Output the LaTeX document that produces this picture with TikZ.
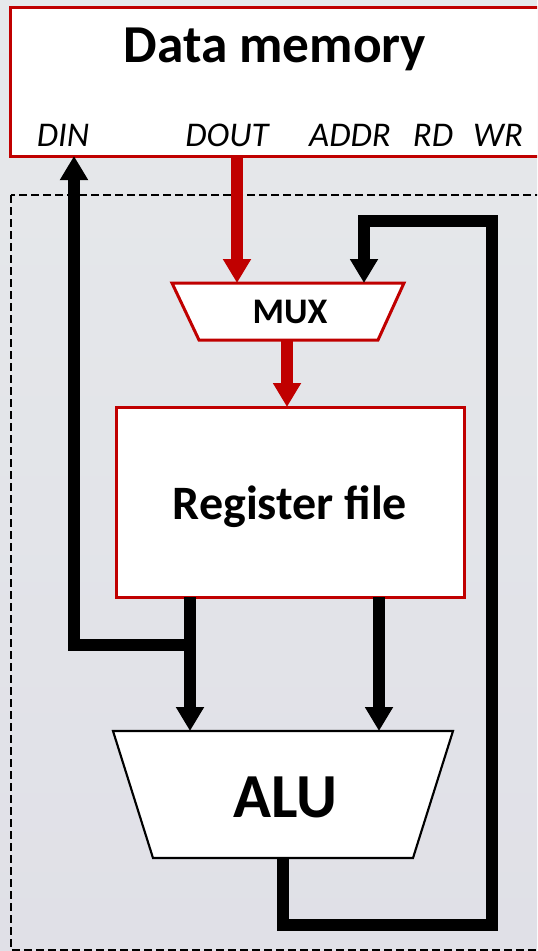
\documentclass[tikz,border=0pt]{standalone}
\usepackage{fontspec}
\setmainfont{Carlito}
\usetikzlibrary{arrows.meta}
\definecolor{wirered}{RGB}{192,0,0}
\definecolor{bgtop}{RGB}{230,233,235}
\definecolor{bgbot}{RGB}{224,224,231}
\tikzset{
  unitbox/.style={draw=wirered, line width=2.25pt, fill=white},
  alubox/.style={draw=black, line width=1.6pt, fill=white, line join=miter},
  wire/.style={draw=black, line width=9pt, line join=miter},
  redwire/.style={draw=wirered, line width=9.5pt, line join=miter},
  tip/.style={-{Triangle[width=20pt,length=18pt]}},
  label/.style={font=\fontsize{26}{28}\selectfont\itshape, anchor=base},
  boundary/.style={draw=black, line width=1.5pt, dash pattern=on 6pt off 3pt}
}
\begin{document}
\begin{tikzpicture}[x=0.75pt, y=-0.75pt]
  \useasboundingbox (0,0) rectangle (537,951);
  \clip (0,0) rectangle (537,951);
  \shade[top color=bgtop, bottom color=bgbot] (0,0) rectangle (537,951);

  % dashed outline of the processor
  \draw[boundary] (11,195) rectangle (620,950);

  % data memory
  \draw[unitbox] (10,7) rectangle (620,156);
  \node[anchor=base, font=\fontsize{40}{44}\selectfont\bfseries] (memtitle) at (275,62) {Data memory};
  \node[label] (din)  at (63,146)  {DIN};
  \node[label] (dout) at (227,146) {DOUT};
  \node[label] (addr) at (350,146) {ADDR};
  \node[label] (rd)   at (433,146) {RD};
  \node[label] (wr)   at (498,146) {WR};
  \coordinate (memdin)  at (74,156);
  \coordinate (memdout) at (237,156);

  % multiplexer
  \draw[unitbox] (172,283) -- (404,283) -- (378,340) -- (199,340) -- cycle;
  \node[anchor=base, font=\fontsize{27}{28}\selectfont\bfseries] (mux) at (290,323) {MUX};
  \coordinate (muxinl) at (237,283);
  \coordinate (muxinr) at (364,283);
  \coordinate (muxout) at (287,340);

  % register file
  \draw[unitbox] (116,407) rectangle (464,597);
  \node[anchor=base, font=\fontsize{36}{40}\selectfont\bfseries] (reg) at (290,519) {Register file};
  \coordinate (regin)   at (287,407);
  \coordinate (regoutl) at (190,597);
  \coordinate (regoutr) at (379,597);

  % ALU
  \draw[alubox] (113,731) -- (453,731) -- (413,858) -- (153,858) -- cycle;
  \node[anchor=base, font=\fontsize{47}{50}\selectfont\bfseries] (alu) at (285,817) {ALU};
  \coordinate (aluinl) at (190,731);
  \coordinate (aluinr) at (379,731);
  \coordinate (aluout) at (283,858);

  % routing points
  \coordinate (split) at (190,645);
  \coordinate (loopbot) at (283,925);
  \coordinate (loopcorner) at (492,925);
  \coordinate (looptop) at (492,221);
  \coordinate (loopturn) at (364,221);

  % data paths
  \draw[redwire, tip] (memdout) -- (muxinl);
  \draw[redwire, tip] (muxout) -- (regin);
  \draw[wire, tip] (regoutl) -- (aluinl);
  \draw[wire, tip] (regoutr) -- (aluinr);
  \draw[wire, tip] (split) -- (split -| memdin) -- (memdin);
  \draw[wire, tip] (aluout) -- (loopbot) -- (loopcorner) -- (looptop) -- (loopturn) -- (muxinr);
\end{tikzpicture}
\end{document}
